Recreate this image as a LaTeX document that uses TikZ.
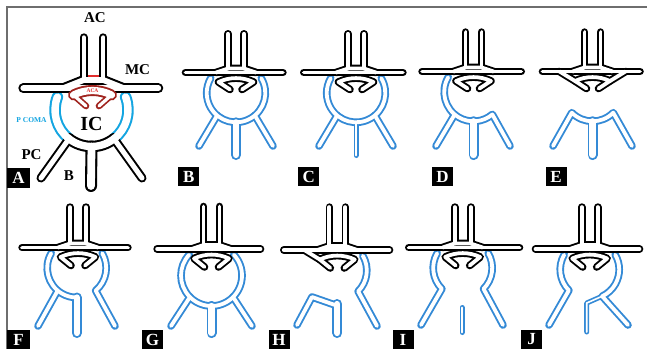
\documentclass[tikz,border=0pt]{standalone}
\usepackage{fontspec}
\setmainfont{Liberation Serif}
\definecolor{pblue}{RGB}{52,138,214}
\definecolor{ablue}{RGB}{20,165,225}
\definecolor{crownred}{RGB}{160,35,30}
\definecolor{acared}{RGB}{225,45,45}
\definecolor{framegray}{RGB}{110,110,110}
\tikzset{
  ves/.style={line cap=round,line join=round},
  outerw/.style={tw/.style={line width=7.6pt},bw/.style={line width=10pt},sw/.style={line width=5pt},atw/.style={line width=8pt},abar/.style={line width=10pt},aring/.style={line width=11.5pt},apca/.style={line width=9pt},abas/.style={line width=12pt},acr/.style={line width=6.6pt},aarc/.style={line width=11pt}},
  innerw/.style={tw/.style={line width=3.8pt},bw/.style={line width=6.2pt},sw/.style={line width=1.6pt},atw/.style={line width=4pt},abar/.style={line width=5.8pt},aring/.style={line width=7.4pt},apca/.style={line width=5pt},abas/.style={line width=7.8pt},acr/.style={line width=3.2pt},aarc/.style={line width=7.2pt}},
  pass1/.style={outerw,vk/.style={draw=none},vb/.style={ves,draw=pblue},va/.style={ves,draw=ablue},vr/.style={draw=none}},
  pass2/.style={outerw,vk/.style={ves,draw=black},vb/.style={draw=none},va/.style={draw=none},vr/.style={ves,draw=crownred}},
  pass3/.style={innerw,vk/.style={ves,draw=white},vb/.style={ves,draw=white},va/.style={ves,draw=white},vr/.style={ves,draw=white}},
  lab/.style={inner sep=0pt,font=\bfseries\fontsize{15}{15}\selectfont},
  lbox/.style={fill=black,text=white,inner sep=0pt,minimum width=21pt,minimum height=19pt,font=\bfseries\fontsize{17}{17}\selectfont}
}
% top black structure: cx, bary, tube top, bar left, bar right, leg dx, leg dy
\newcommand\topk[7]{%
  \draw[vk,tw] (#4,#2) -- (#5,#2);
  \draw[vk,tw] (#1-20,#2) -- (#1-8,#2-4) -- (#1+8,#2-4) -- (#1+20,#2);
  \draw[vk,tw] (#1-8,#2-4) -- (#1-8,#3);
  \draw[vk,tw] (#1+8,#2-4) -- (#1+8,#3);
  \draw[vk,tw] (#1-#6,#2+#7) -- (#1-17.5,#2+9.5) arc[start angle=244.9,end angle=295.1,radius=41.2] -- (#1+#6,#2+#7);
}
\newcommand\extL[2]{\draw[vk,tw] (#1-33,#2) -- (#1-17.5,#2+9.5);}
\newcommand\extR[2]{\draw[vk,tw] (#1+33,#2) -- (#1+17.5,#2+9.5);}
\newcommand\vessels{%
  % ---- A ----
  \draw[vk,abar] (23.3,88.3) -- (158.3,88.3);
  \draw[vk,abar] (63,88.3) -- (83.7,80) -- (103.3,80) -- (124,88.3);
  \draw[vk,atw] (83.7,80) -- (83.7,37.3);
  \draw[vk,atw] (103.3,80) -- (103.3,37.3);
  \draw[va,aring] (91.5,110) ++(200.9:36.5) arc[start angle=200.9,end angle=128,radius=36.5];
  \draw[vk,aring] (91.5,110) ++(128:36.5) arc[start angle=128,end angle=52,radius=36.5];
  \draw[va,aring] (91.5,110) ++(52:36.5) arc[start angle=52,end angle=-20.9,radius=36.5];
  \draw[vk,apca] (69,138.8) -- (41,178);
  \draw[vk,apca] (114,138.8) -- (142,178);
  \draw[vk,abas] (91.5,146.5) -- (91,186);
  % ---- B ----
  \draw[vb,tw] (236,93) ++(-30.3:29.3) arc[start angle=-30.3,end angle=210.3,radius=29.3];
  \draw[vb,tw] (217.2,115.4) -- (199,146);
  \draw[vb,tw] (254.8,115.4) -- (273,146);
  \draw[vb,bw] (236,122.3) -- (236,155);
  \topk{236}{72.5}{33.8}{185.5}{282.9}{6}{17}
  % ---- C ----
  \draw[vb,tw] (356,93) ++(-30.3:29.3) arc[start angle=-30.3,end angle=210.3,radius=29.3];
  \draw[vb,tw] (337.2,115.4) -- (319,146);
  \draw[vb,tw] (374.8,115.4) -- (393,146);
  \draw[vb,sw] (356,122.3) -- (356,155.5);
  \topk{356}{72.5}{33.8}{303.8}{402.9}{6}{17}
  % ---- D ----
  \draw[vb,tw] (473.5,92) ++(210.3:29.3) arc[start angle=210.3,end angle=50,radius=29.3] -- (510,146);
  \draw[vb,tw] (454.7,114.4) -- (436,146);
  \draw[vb,bw] (473.5,121.3) -- (473.5,155);
  \topk{473.5}{71.5}{32.1}{422.1}{521.2}{6}{17}
  % ---- E ----
  \draw[vb,tw] (553,146) -- (571.8,112.7) arc[start angle=135,end angle=45,radius=29.3] -- (632,146);
  \draw[vb,bw] (592.5,121.3) -- (592.5,155);
  \topk{592.5}{71.5}{32.1}{542.5}{640}{6}{17}
  \extL{592.5}{71.5}
  \extR{592.5}{71.5}
  % ---- F ----
  \draw[vb,tw] (76.7,268) ++(210.1:29.5) arc[start angle=210.1,end angle=90,radius=29.5];
  \draw[vb,bw] (76.7,297.5) -- (76.7,333);
  \draw[vb,tw] (57.7,290.6) -- (38,326);
  \draw[vb,tw] (76.7,268) ++(-30.1:29.5) arc[start angle=-30.1,end angle=50,radius=29.5] -- (115,326);
  \topk{78}{247.5}{207.1}{22.1}{127.9}{7}{18}
  % ---- G ----
  \draw[vb,tw] (211.5,275.5) ++(-43:30.5) arc[start angle=-43,end angle=223,radius=30.5];
  \draw[vb,tw] (189.9,297.1) -- (171,326);
  \draw[vb,tw] (233.1,297.1) -- (252,326);
  \draw[vb,bw] (211.5,306) -- (211.5,333);
  \topk{211.5}{249}{206.5}{157.1}{260.5}{7}{18}
  % ---- H ----
  \draw[vb,tw] (337.3,270.5) ++(-30.1:29.5) arc[start angle=-30.1,end angle=45,radius=29.5] -- (377,326);
  \draw[vb,tw] (297,325) -- (312,297) -- (335,305);
  \draw[vb,bw] (337.3,304) -- (337.3,333);
  \topk{337.3}{250}{207.1}{283.8}{389.5}{7}{18}
  \extL{337.3}{250}
  % ---- I ----
  \draw[vb,tw] (462.7,268) ++(210.1:29.5) arc[start angle=210.1,end angle=135,radius=29.5] -- (421,325);
  \draw[vb,tw] (462.7,268) ++(-30.1:29.5) arc[start angle=-30.1,end angle=45,radius=29.5] -- (503,325);
  \draw[vb,sw] (462,307.5) -- (462,332.5);
  \topk{462.7}{247.5}{207.1}{408.8}{519.5}{7}{18}
  % ---- J ----
  \draw[vb,tw] (589.7,269.5) ++(210.1:29.5) arc[start angle=210.1,end angle=135,radius=29.5] -- (549,325);
  \draw[vb,tw] (589.7,269.5) ++(-30.1:29.5) arc[start angle=-30.1,end angle=65,radius=29.5] -- (628,325);
  \draw[vb,sw] (586.7,332) -- (586.7,303) -- (602.2,296.2);
  \topk{589.7}{249}{207.1}{535.5}{639.5}{7}{18}
}
\newcommand\acrown{%
  \draw[vr,acr] (86,106) -- (73.5,95);
  \draw[vr,acr] (99,106) -- (111.5,95);
  \draw[vr,aarc] (73.5,95) arc[start angle=243.4,end angle=296.6,radius=42.4];
}
\begin{document}
\begin{tikzpicture}[x=1pt,y=-1pt]
\useasboundingbox (0,0) rectangle (647,349);
\fill[white] (0,0) rectangle (647,349);
\draw[framegray,line width=1.2pt] (7,349) -- (7,7) -- (647,7);
\begin{scope}[pass1]\vessels\end{scope}
\begin{scope}[pass2]\vessels\end{scope}
\begin{scope}[pass3]\vessels\end{scope}
\begin{scope}[pass2]\acrown\end{scope}
\begin{scope}[pass3]\acrown\end{scope}
\draw[acared,line width=2pt] (87.7,76.1) -- (99.3,76.1);
% labels of panel A
\node[lab] (tAC) at (95,18) {AC};
\node[lab] (tMC) at (137.5,70) {MC};
\node[lab,font=\bfseries\fontsize{20}{20}\selectfont] (tIC) at (91.5,124) {IC};
\node[lab] (tPC) at (31.5,155) {PC};
\node[lab] (tB) at (69,176) {B};
\node[inner sep=0pt,text=ablue,font=\bfseries\fontsize{7.5}{8}\selectfont] (tPCOMA) at (31.5,120) {P COMA};
\node[inner sep=0pt,text=acared,font=\bfseries\fontsize{5.5}{6}\selectfont] (tACA) at (92.5,91) {ACA};
% panel letters
\node[lbox,minimum width=23pt,minimum height=20pt] (bA) at (18.5,178) {A};
\node[lbox] (bB) at (188.8,176.5) {B};
\node[lbox] (bC) at (308.8,176.5) {C};
\node[lbox] (bD) at (442.5,176.5) {D};
\node[lbox] (bE) at (556,176.5) {E};
\node[lbox,minimum width=23pt] (bF) at (18.5,339.5) {F};
\node[lbox] (bG) at (152.5,339.5) {G};
\node[lbox] (bH) at (279,339.5) {H};
\node[lbox] (bI) at (403,339.5) {I};
\node[lbox] (bJ) at (531.7,339.5) {J};
\end{tikzpicture}
\end{document}
